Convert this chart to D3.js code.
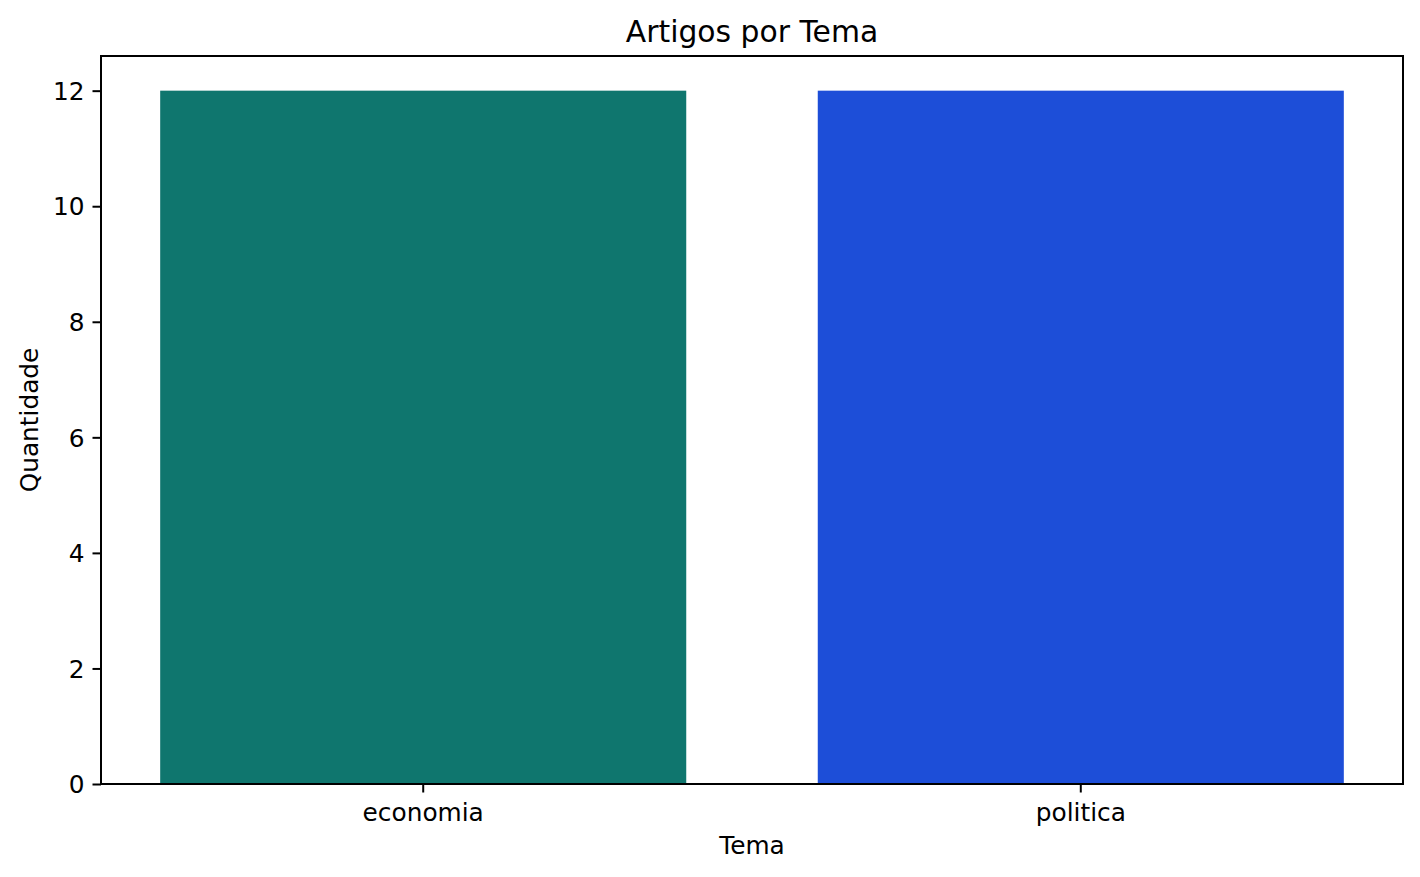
<!DOCTYPE html>
<html>
<head>
<meta charset="utf-8">
<script src="https://cdn.jsdelivr.net/npm/d3@7"></script>
<style>
  body { margin: 0; background: #fff; }
  svg text { font-family: "DejaVu Sans", sans-serif; fill: #000; }
</style>
</head>
<body>
<div id="chart"></div>
<script>
// chart data
const temas = ["economia", "politica"];
const quantidades = [12, 12];
const barColors = ["#0f766e", "#1d4ed8"];
const yTicks = [0, 2, 4, 6, 8, 10, 12];

const W = 1420, H = 877;
const margin = { top: 56, right: 17, bottom: 93, left: 101 };
const width = W - margin.left - margin.right;
const height = H - margin.top - margin.bottom;

const svg = d3.select("#chart")
  .append("svg")
  .attr("width", W)
  .attr("height", H);

const g = svg.append("g")
  .attr("transform", `translate(${margin.left},${margin.top})`);

// matplotlib-like band: width 0.8 with 5% margins
const x = d3.scaleBand()
  .domain(temas)
  .range([0, width])
  .paddingInner(0.2)
  .paddingOuter(0.09);

const y = d3.scaleLinear()
  .domain([0, d3.max(quantidades) * 1.05])
  .range([height, 0]);

g.selectAll(".bar")
  .data(temas)
  .enter()
  .append("rect")
  .attr("class", "bar")
  .attr("x", (d) => x(d))
  .attr("y", (d, i) => y(quantidades[i]))
  .attr("width", x.bandwidth())
  .attr("height", (d, i) => y(0) - y(quantidades[i]))
  .attr("fill", (d, i) => barColors[i]);

const xAxis = d3.axisBottom(x).tickSize(8.5).tickPadding(10);
const yAxis = d3.axisLeft(y).tickValues(yTicks).tickSize(8.5).tickPadding(8);

const xg = g.append("g")
  .attr("transform", `translate(0,${height})`)
  .call(xAxis);
const yg = g.append("g").call(yAxis);

[xg, yg].forEach((ax) => {
  ax.select(".domain").remove();
  ax.selectAll("line").attr("stroke", "#000").attr("stroke-width", 2);
  ax.selectAll("text").style("font-size", "24.8px").attr("fill", "#000");
});
yg.selectAll("text").attr("dy", "0.35em");
xg.selectAll("text").attr("dy", "0.76em");

// frame
g.append("rect")
  .attr("width", width)
  .attr("height", height)
  .attr("fill", "none")
  .attr("stroke", "#000")
  .attr("stroke-width", 2);

svg.append("text")
  .attr("x", margin.left + width / 2)
  .attr("y", 42)
  .attr("text-anchor", "middle")
  .style("font-size", "29.8px")
  .text("Artigos por Tema");

svg.append("text")
  .attr("x", margin.left + width / 2)
  .attr("y", 854)
  .attr("text-anchor", "middle")
  .style("font-size", "24.8px")
  .text("Tema");

svg.append("text")
  .attr("transform", `translate(38,${margin.top + height / 2}) rotate(-90)`)
  .attr("text-anchor", "middle")
  .style("font-size", "24.8px")
  .text("Quantidade");
</script>
</body>
</html>
